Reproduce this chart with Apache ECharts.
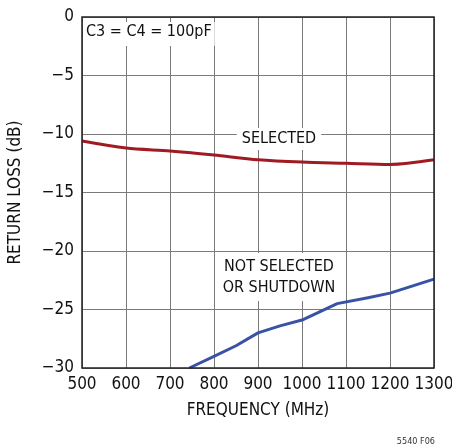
<!DOCTYPE html>
<html>
<head>
<meta charset="utf-8">
<script src="https://cdn.jsdelivr.net/npm/echarts@6/dist/echarts.min.js"></script>
<style>
  html, body { margin: 0; padding: 0; background: #fff; }
  #chart { width: 452px; height: 447px; }
</style>
</head>
<body>
<div id="chart"></div>
<script>
// frequency (MHz) vs return loss (dB)
var selectedFreq = [500, 600, 700, 800, 900, 1000, 1100, 1200, 1300];
var selectedLoss = [-10.6, -11.2, -11.45, -11.8, -12.2, -12.4, -12.5, -12.6, -12.2];

var shutdownFreq = [744, 800, 850, 900, 950, 1000, 1040, 1080, 1150, 1200, 1250, 1300];
var shutdownLoss = [-30, -29.0, -28.1, -27.0, -26.4, -25.9, -25.2, -24.5, -24.0, -23.6, -23.0, -22.4];

var fontName = '"DejaVu Sans Condensed", "Liberation Sans Narrow", "Liberation Sans", sans-serif';

function pairs(xs, ys) {
    return xs.map(function (x, i) { return [x, ys[i]]; });
}

var chart = echarts.init(document.getElementById('chart'));

chart.setOption({
    animation: false,
    backgroundColor: '#fff',
    grid: { left: 82, right: 18, top: 17, bottom: 79, containLabel: false, outerBoundsMode: 'none' },
    xAxis: {
        type: 'value',
        min: 500, max: 1300, interval: 100,
        name: 'FREQUENCY (MHz)',
        nameLocation: 'middle',
        nameGap: 34,
        nameTextStyle: { fontFamily: fontName, fontSize: 17, color: '#111' },
        axisLine: { show: false },
        axisTick: { show: false },
        axisLabel: {
            fontFamily: fontName, fontSize: 17, color: '#111', margin: 8,
            showMinLabel: true, showMaxLabel: true, hideOverlap: false,
            formatter: function (v) { return String(v); }
        },
        splitLine: { show: true, lineStyle: { color: '#7a7a7a', width: 1 } }
    },
    yAxis: {
        type: 'value',
        min: -30, max: 0, interval: 5,
        name: 'RETURN LOSS (dB)',
        nameLocation: 'middle',
        nameGap: 58,
        nameTextStyle: { fontFamily: fontName, fontSize: 17, color: '#111' },
        axisLine: { show: false },
        axisTick: { show: false },
        axisLabel: {
            fontFamily: fontName, fontSize: 17, color: '#111', margin: 8,
            formatter: function (v) { return String(v).replace('-', '\u2212'); }
        },
        splitLine: { show: true, lineStyle: { color: '#7a7a7a', width: 1 } }
    },
    series: [
        {
            name: 'SELECTED',
            type: 'line',
            data: pairs(selectedFreq, selectedLoss),
            smooth: 0.3,
            symbol: 'none',
            lineStyle: { color: '#a01a22', width: 3 },
            z: 3
        },
        {
            name: 'NOT SELECTED OR SHUTDOWN',
            type: 'line',
            data: pairs(shutdownFreq, shutdownLoss),
            smooth: false,
            symbol: 'none',
            lineStyle: { color: '#3953a4', width: 3, join: 'round' },
            z: 3
        }
    ],
    graphic: [
        // plot frame
        {
            type: 'rect',
            shape: { x: 82, y: 17, width: 352, height: 351 },
            style: { fill: 'none', stroke: '#222', lineWidth: 1.5 },
            z: 10
        },
        {
            type: 'text',
            left: 84, top: 22,
            style: {
                text: 'C3 = C4 = 100pF',
                font: '16px ' + fontName,
                fill: '#111',
                backgroundColor: '#fff',
                padding: [2, 3, 6, 2]
            },
            z: 5
        },
        {
            type: 'text',
            x: 279, y: 139,
            style: {
                text: 'SELECTED',
                font: '16px ' + fontName,
                fill: '#111',
                align: 'center',
                verticalAlign: 'middle',
                backgroundColor: '#fff',
                padding: [3, 5, 3, 5]
            },
            z: 5
        },
        {
            type: 'text',
            x: 279, y: 277,
            style: {
                text: 'NOT SELECTED\nOR SHUTDOWN',
                font: '16px ' + fontName,
                lineHeight: 21,
                fill: '#111',
                align: 'center',
                verticalAlign: 'middle',
                backgroundColor: '#fff',
                padding: [3, 6, 3, 6]
            },
            z: 5
        },
        {
            type: 'text',
            right: 17, top: 437,
            style: {
                text: '5540 F06',
                font: '9px ' + fontName,
                fill: '#333'
            }
        }
    ]
});
</script>
</body>
</html>
